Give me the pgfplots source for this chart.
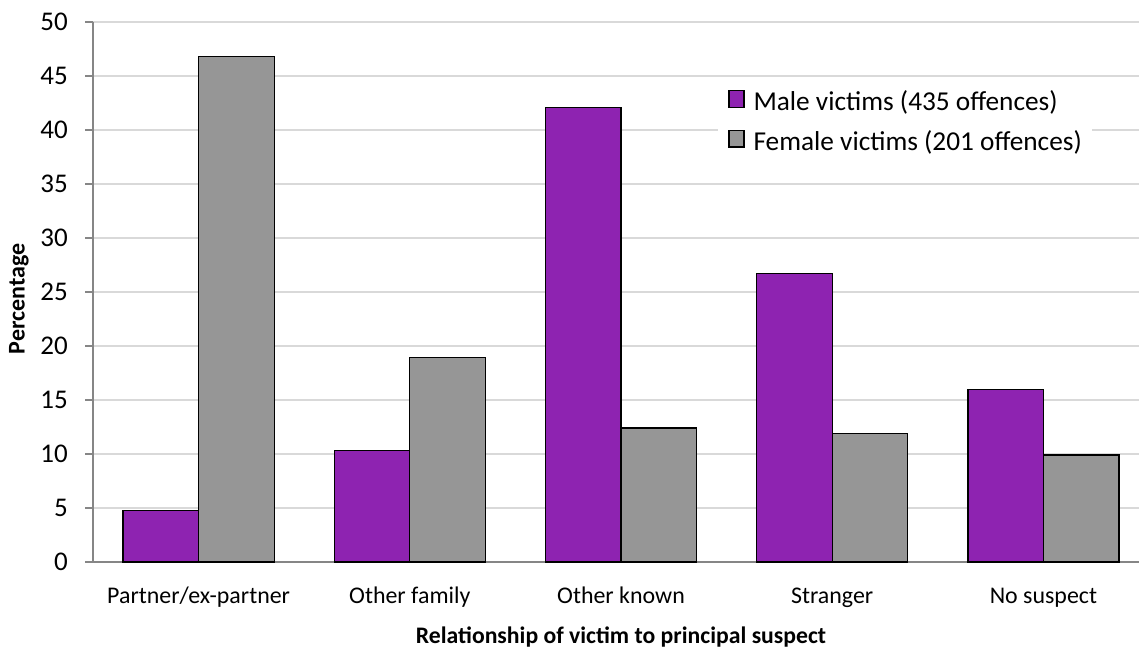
\documentclass[border=0pt]{standalone}
\usepackage{fontspec}
\setmainfont{Carlito}
\usepackage{pgfplots}
\pgfplotsset{compat=1.18}
\definecolor{malec}{RGB}{142,35,177}
\definecolor{femalec}{RGB}{150,150,150}
\definecolor{gridc}{RGB}{217,217,217}
\definecolor{axisc}{RGB}{134,134,134}

\pgfplotsset{
  sq legend/.style={legend image code/.code={
    \draw[##1, draw=black, line width=1.2pt] (0pt,-1.5pt) rectangle (15pt,15pt);}}
}

\begin{document}
\begin{tikzpicture}[x=1pt,y=1pt]
\path[use as bounding box] (0,0) rectangle (1139,648);
\begin{axis}[
  at={(93pt,86pt)}, anchor=south west,
  scale only axis, width=1056pt, height=540pt,
  xmin=-0.5, xmax=4.5, ymin=0, ymax=50,
  ytick={0,5,...,50},
  xtick={0,1,2,3,4},
  xticklabels={Partner/ex-partner, Other family, Other known, Stranger, No suspect},
  axis lines*=left,
  axis line style={axisc, line width=1.2pt},
  ymajorgrids, grid style={gridc, line width=1.2pt},
  tick align=outside, major tick length=8pt,
  y tick style={axisc, line width=1.2pt},
  x tick style={draw=none},
  /pgf/number format/assume math mode=true,
  yticklabel style={font=\fontsize{27}{30}\selectfont, inner sep=0pt, xshift=-17pt},
  xticklabel style={font=\fontsize{23.9}{28}\selectfont, inner sep=0pt, anchor=base, yshift=-33pt},
  xlabel={\textbf{Relationship of victim to principal suspect}},
  xlabel style={font=\fontsize{23.7}{28}\selectfont, at={(axis description cs:0.5,0)}, anchor=base, yshift=-81pt},
  ylabel={\textbf{Percentage}},
  ylabel style={font=\fontsize{24}{28}\selectfont, at={(axis description cs:0,0.487)}, anchor=center, yshift=74pt},
  ybar=0pt, bar width=75.5pt,
  legend cell align=left,
  legend style={at={(axis description cs:0.592,0.8926)}, anchor=north west,
    draw=none, fill=white, inner sep=10pt,
    font=\fontsize{27.3}{31}\selectfont,
    nodes={inner sep=0pt, text height=16pt, text depth=6pt},
    row sep=13pt,
    /tikz/every odd column/.append style={column sep=9pt}},
]
\addplot[fill=malec, draw=black, line width=1.2pt, sq legend]
  coordinates {(0,4.8) (1,10.3) (2,42.1) (3,26.7) (4,16.0)};
\addplot[fill=femalec, draw=black, line width=1.2pt, sq legend]
  coordinates {(0,46.8) (1,18.9) (2,12.4) (3,11.9) (4,9.9)};
\legend{Male victims (435 offences), Female victims (201 offences)}
\end{axis}
\end{tikzpicture}
\end{document}
